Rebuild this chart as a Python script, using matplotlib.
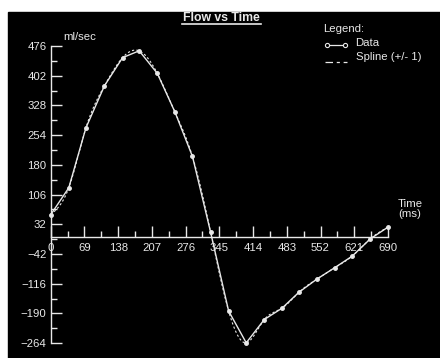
"""Flow vs Time chart on a black panel."""

import numpy as np
import matplotlib
matplotlib.use('Agg')
import matplotlib.pyplot as plt
from matplotlib.lines import Line2D
from matplotlib.patches import Rectangle
from matplotlib.ticker import FixedLocator

# data
time_ms = [0, 37, 72, 110, 147, 181, 218, 254, 290, 327,
           364, 400, 437, 473, 508, 545, 581, 617, 654, 690]
flow = [56, 123, 272, 377, 447, 464, 408, 312, 201, 13,
        -184, -263, -205, -177, -137, -104, -76, -47, -4, 25]
x_ticks = [0, 69, 138, 207, 276, 345, 414, 483, 552, 621, 690]
y_ticks = [-264, -190, -116, -42, 32, 106, 180, 254, 328, 402, 476]

W, H = 440, 358
FG = '#e8e8e8'
FONT = 'Liberation Sans'
FS = 8.2


def fx(px):
    return px / W


def fy(py):
    return 1 - py / H


def natural_spline(x, y, n=600):
    """Evaluate a natural cubic spline through the points."""
    x = np.asarray(x, float)
    y = np.asarray(y, float)
    k = len(x)
    h = np.diff(x)
    a = np.zeros((k, k))
    b = np.zeros(k)
    a[0, 0] = a[-1, -1] = 1
    for i in range(1, k - 1):
        a[i, i - 1] = h[i - 1]
        a[i, i] = 2 * (h[i - 1] + h[i])
        a[i, i + 1] = h[i]
        b[i] = 6 * ((y[i + 1] - y[i]) / h[i] - (y[i] - y[i - 1]) / h[i - 1])
    m = np.linalg.solve(a, b)
    xs = np.linspace(x[0], x[-1], n)
    j = np.clip(np.searchsorted(x, xs) - 1, 0, k - 2)
    t0 = xs - x[j]
    t1 = x[j + 1] - xs
    hj = h[j]
    ys = (m[j] * t1**3 / (6 * hj) + m[j + 1] * t0**3 / (6 * hj)
          + (y[j] / hj - m[j] * hj / 6) * t1
          + (y[j + 1] / hj - m[j + 1] * hj / 6) * t0)
    return xs, ys


def main():
    """Main program called during execution."""

    # initialize figure with black panel
    fig = plt.figure(figsize=(W / 100, H / 100), dpi=100, facecolor='white')
    fig.add_artist(Rectangle((fx(8), 0), 1 - fx(8), fy(12), color='black',
                             transform=fig.transFigure, zorder=-10))

    # axes aligned with data range
    left, right, top, bottom = 50.7, 388.0, 46.0, 343.2
    ax = fig.add_axes([fx(left), fy(bottom), fx(right - left),
                       fy(top) - fy(bottom)])
    ax.set_facecolor('none')
    ax.set_xlim(0, 690)
    ax.set_ylim(-264, 476)

    # spline and data
    xs, ys = natural_spline(time_ms, flow)
    ax.plot(xs, ys, color=FG, lw=0.8, ls=(0, (2, 2)), clip_on=False)
    ax.plot(time_ms, flow, color=FG, lw=1.0, marker='o', ms=2.5,
            mfc=FG, mec=FG, clip_on=False)

    # axes properties
    for side in ('top', 'right'):
        ax.spines[side].set_visible(False)
    ax.spines['bottom'].set_position(('data', 0))
    for side in ('left', 'bottom'):
        ax.spines[side].set_color(FG)
        ax.spines[side].set_linewidth(1.0)
    ax.xaxis.set_major_locator(FixedLocator(x_ticks))
    ax.yaxis.set_major_locator(FixedLocator(y_ticks))
    ax.xaxis.set_minor_locator(FixedLocator(
        np.array(x_ticks[:-1]) + np.diff(x_ticks) / 2))
    ax.yaxis.set_minor_locator(FixedLocator(
        np.array(y_ticks[:-1]) + np.diff(y_ticks) / 2))
    ax.tick_params(which='both', direction='in', color=FG, width=1.0,
                   labelcolor=FG, labelsize=FS)
    ax.tick_params(which='major', length=8)
    ax.tick_params(which='minor', length=4.5)
    ax.tick_params(axis='x', pad=4)
    ax.tick_params(axis='y', pad=3)
    for lab in ax.get_xticklabels() + ax.get_yticklabels():
        lab.set_fontfamily(FONT)

    # title with underline
    fig.text(fx(221), fy(18), 'Flow vs Time', color=FG, fontsize=8.8,
             fontweight='bold', family=FONT, ha='center', va='center')
    fig.add_artist(Line2D([fx(182), fx(261)], [fy(24), fy(24)],
                          color=FG, lw=1.2, transform=fig.transFigure))

    # axis labels
    fig.text(fx(63), fy(37), 'ml/sec', color=FG, fontsize=FS, family=FONT,
             ha='left', va='center')
    fig.text(fx(410), fy(209), 'Time\n(ms)', color=FG, fontsize=FS,
             family=FONT, ha='center', va='center', linespacing=0.95)

    # legend
    fig.text(fx(323), fy(29.5), 'Legend:', color=FG, fontsize=FS,
             family=FONT, ha='left', va='center')
    fig.text(fx(355.5), fy(43.5), 'Data', color=FG, fontsize=FS,
             family=FONT, ha='left', va='center')
    fig.text(fx(355.5), fy(57), 'Spline (+/- 1)', color=FG, fontsize=FS,
             family=FONT, ha='left', va='center')
    fig.add_artist(Line2D([fx(327), fx(345)], [fy(45), fy(45)], color=FG,
                          lw=0.9, marker='o', ms=3, mfc='black', mec=FG,
                          mew=0.8, transform=fig.transFigure))
    fig.add_artist(Line2D([fx(325), fx(347)], [fy(61.5), fy(61.5)],
                          color=FG, lw=0.9, ls=(0, (6, 3, 2.5, 3)),
                          transform=fig.transFigure))

    # save figure
    fig.savefig('out.png', dpi=100, facecolor='white')


if __name__ == '__main__':
    main()
